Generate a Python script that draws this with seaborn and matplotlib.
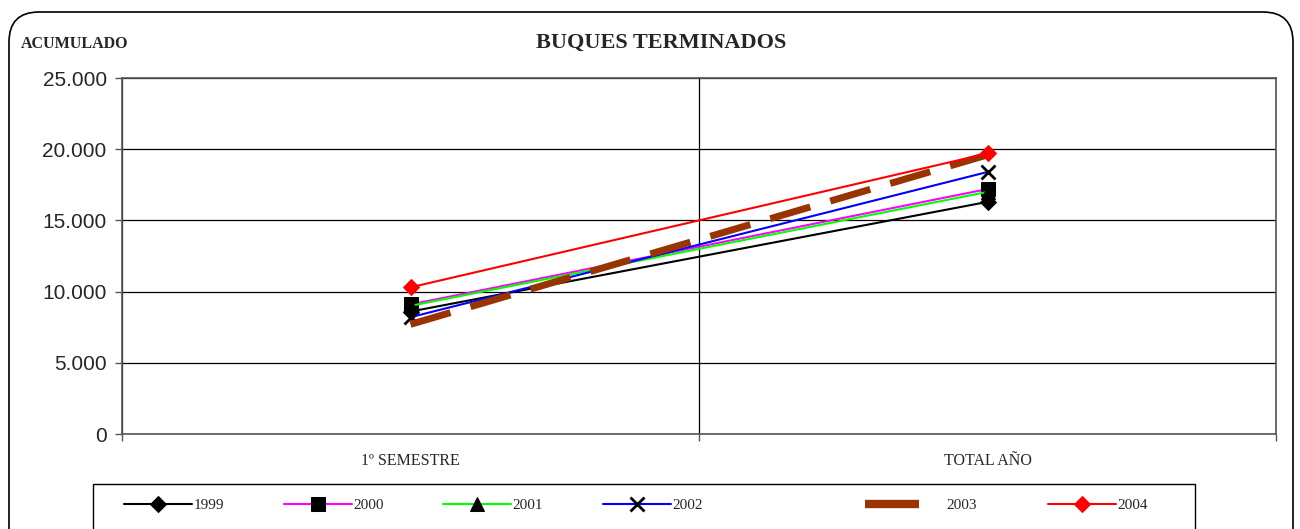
import pandas as pd
import matplotlib.pyplot as plt
import seaborn as sns
from matplotlib.patches import FancyBboxPatch, Rectangle
from matplotlib.ticker import FuncFormatter

# Datos
periodos = ['1º SEMESTRE', 'TOTAL AÑO']
anios = ['1999', '2000', '2001', '2002', '2003', '2004']
v1999 = [8600, 16300]
v2000 = [9100, 17200]
v2001 = [9000, 17000]
v2002 = [8200, 18400]
v2003 = [7700, 19600]
v2004 = [10300, 19700]
valores = [v1999, v2000, v2001, v2002, v2003, v2004]

estilos = {
    '1999': dict(color='black', marker='D', mfc='black', mec='black', ms=8, lw=1.5),
    '2000': dict(color='magenta', marker='s', mfc='black', mec='black', ms=10, lw=1.5),
    '2001': dict(color='#00ff00', marker='^', mfc='black', mec='black', ms=10, lw=1.5),
    '2002': dict(color='blue', marker='x', mfc='black', mec='black', ms=10, mew=2, lw=1.5),
    '2003': dict(color='#993300', lw=5, linestyle=(0, (6, 3)), dash_capstyle='butt',
                 solid_capstyle='butt'),
    '2004': dict(color='red', marker='D', mfc='red', mec='red', ms=8, lw=1.5),
}

sns.set_style("white")
plt.rcParams['font.family'] = ['Liberation Sans', 'DejaVu Sans']

W, H = 1300, 529
fig = plt.figure(figsize=(W / 100, H / 100), dpi=100)
ax = fig.add_axes([122/W, 1-434/H, (1276-122)/W, (434-78)/H])

for anio, vals in zip(anios, valores):
    sns.lineplot(x=periodos, y=vals, ax=ax, label=anio, sort=False, **estilos[anio])

ax.set_xlim(-0.5, 1.5)
ax.set_ylim(0, 25000)
ax.set_yticks(range(0, 25001, 5000))
ax.yaxis.set_major_formatter(FuncFormatter(lambda v, p: f'{int(v):,}'.replace(',', '.')))
ax.set_xticks([-0.5, 0.5, 1.5])
ax.set_xticklabels([])
ax.set_xticks([0, 1], minor=True)
ax.set_xticklabels(periodos, minor=True, family=['Liberation Serif'], fontsize=11.5)
ax.tick_params(axis='x', which='minor', length=0, pad=14)
ax.tick_params(axis='x', which='major', length=5, width=1, color='#555555', direction='out', bottom=True)
ax.tick_params(axis='y', length=5, width=1, color='#555555', direction='out', left=True, labelsize=15, pad=6)
ax.grid(True, which='major', color='black', lw=0.9)
ax.set_xlabel('')
ax.set_ylabel('')
for s in ax.spines.values():
    s.set_color('#555555')
    s.set_linewidth(1.2)

handles, labels = ax.get_legend_handles_labels()
ax.get_legend().remove()

# leyenda en tres grupos para imitar el espaciado de Excel
fuente = {'family': 'Liberation Serif', 'size': 11}
y_ley = 1 - 505/H
grupos = [(slice(0, 4), 124, 4.45, 0.1, 3.9), (slice(4, 5), 865, 3.55, 1.8, 1),
          (slice(5, 6), 1048, 4.45, 0.1, 1)]
for sl, x0, hl, tp, cs in grupos:
    leg = fig.legend(handles[sl], labels[sl], loc='center left', ncol=4,
                     bbox_to_anchor=(x0/W, y_ley), borderaxespad=0, borderpad=0,
                     prop=fuente, handlelength=hl, handletextpad=tp, columnspacing=cs,
                     frameon=False)
    for h in leg.legend_handles:
        h.set_linestyle('-')
        if h.get_linewidth() > 3:
            h.set_linewidth(6)

fig.patches.append(Rectangle((93, -10), 1102, H - 484 + 10, transform=None,
                             fill=False, edgecolor='black', lw=1))

fig.text(661/W, 1-43/H, 'BUQUES TERMINADOS', ha='center', va='center',
         family='Liberation Serif', fontweight='bold', fontsize=16)
fig.text(21/W, 1-44/H, 'ACUMULADO', ha='left', va='center',
         family='Liberation Serif', fontweight='bold', fontsize=11.5)

marco = FancyBboxPatch((9, -40), 1284, 557, boxstyle='round,pad=0,rounding_size=30',
                       transform=None, fill=False, edgecolor='black', lw=1.2)
fig.patches.append(marco)

plt.savefig('out.png', dpi=100)
